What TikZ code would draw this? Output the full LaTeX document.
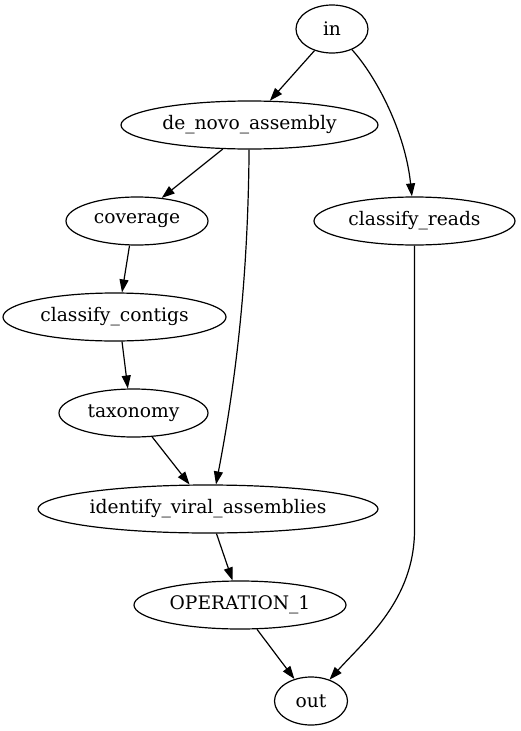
\documentclass[tikz,border=0pt]{standalone}
\usepackage{fontspec}
\setmainfont{DejaVu Serif}
\usetikzlibrary{shapes.geometric,arrows.meta}
\tikzset{
  gnode/.style={ellipse, draw=black, line width=1.2pt, inner sep=0pt, minimum height=48pt,
    font=\fontsize{18.67}{22}\selectfont},
  gedge/.style={draw=black, line width=1.2pt, -{Triangle[length=13pt,width=9pt]}}
}
\begin{document}
\begin{tikzpicture}[x=1pt,y=-1pt]
\useasboundingbox (0,0) rectangle (521,731);
\node[gnode, minimum width=72pt]  (in)  at (332,29)  {in};
\node[gnode, minimum width=257pt] (dn)  at (249.5,125) {de\_novo\_assembly};
\node[gnode, minimum width=201pt] (cr)  at (414.5,221) {classify\_reads};
\node[gnode, minimum width=142pt] (cov) at (137,221) {coverage};
\node[gnode, minimum width=223pt] (cc)  at (114.5,317) {classify\_contigs};
\node[gnode, minimum width=149pt] (tax) at (133.5,413) {taxonomy};
\node[gnode, minimum width=340pt] (iv)  at (208,509) {identify\_viral\_assemblies};
\node[gnode, minimum width=212pt] (op)  at (240,605) {OPERATION\_1};
\node[gnode, minimum width=73pt]  (out) at (311,701) {out};

\draw[gedge] (in.-129.6) -- (dn.50);
\draw[gedge] (in.-46) .. controls (375,75) and (405,130) .. (cr.96);
\draw[gedge] (dn.-138) -- (cov.43);
\draw[gedge] (dn.-91) .. controls (248,280) and (236,380) .. (iv.72);
\draw[gedge] (cov.-107) -- (cc.73);
\draw[gedge] (cc.-73.5) -- (tax.103);
\draw[gedge] (tax.-52.4) -- (iv.127);
\draw[gedge] (cr.-90) -- (414.5,530) .. controls (414.5,600) and (365,640) .. (out.49);
\draw[gedge] (iv.-71.6) -- (op.107.7);
\draw[gedge] (op.-55.8) -- (out.127.3);
\end{tikzpicture}
\end{document}
